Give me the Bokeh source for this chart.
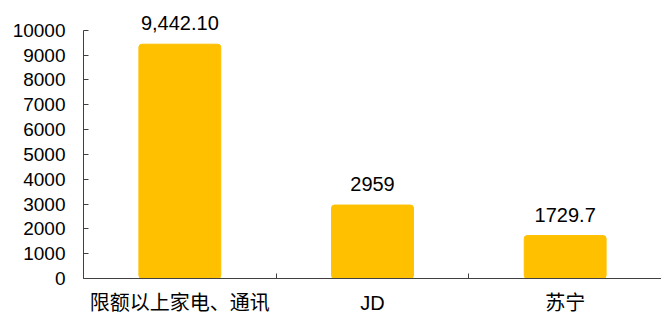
from bokeh.plotting import figure
from bokeh.models import Range1d, FixedTicker, ColumnDataSource
from bokeh.core.properties import value
from bokeh.embed import file_html
from bokeh.resources import INLINE

categories = ["限额以上家电、通讯", "JD", "苏宁"]
values = [9442.10, 2959, 1729.7]
value_labels = ["9,442.10", "2959", "1729.7"]
y_ticks = [0, 1000, 2000, 3000, 4000, 5000, 6000, 7000, 8000, 9000, 10000]

FONT = "Liberation Sans"
BAR = "#FFC000"

xs = [i + 0.5 for i in range(len(categories))]
src = ColumnDataSource(dict(x=xs, top=values, label=value_labels))

p = figure(frame_width=578, frame_height=268, output_backend="svg", toolbar_location=None,
           x_range=Range1d(0, len(categories)), y_range=Range1d(0, 10800),
           min_border_left=83, min_border_top=10, min_border_bottom=34, min_border_right=0)
p.outline_line_color = None
p.xgrid.visible = False
p.ygrid.visible = False

p.vbar(x="x", top="top", bottom=0, width=0.425, source=src, color=BAR, border_radius=3)
p.text(x="x", y="top", text="label", source=src, text_align="center", text_baseline="bottom",
       y_offset=-14, text_font=value(FONT), text_font_size="20px", text_color="#000000")

# y axis
p.yaxis.bounds = (min(y_ticks), max(y_ticks))
p.yaxis.ticker = FixedTicker(ticks=y_ticks)
p.yaxis.major_tick_in = 5
p.yaxis.major_tick_out = 0
p.yaxis.minor_tick_line_color = None
p.yaxis.major_label_standoff = 18
p.yaxis.major_label_text_font = FONT
p.yaxis.major_label_text_font_size = "19px"
p.yaxis.major_label_text_color = "#000000"
p.yaxis.axis_line_color = "#404040"
p.yaxis.major_tick_line_color = "#404040"

# x axis: labels at centers, tick marks at category boundaries
p.xaxis.ticker = FixedTicker(ticks=xs, minor_ticks=list(range(len(categories) + 1)))
p.xaxis.major_label_overrides = {x: c for x, c in zip(xs, categories)}
p.xaxis.major_tick_line_color = None
p.xaxis.minor_tick_in = 5
p.xaxis.minor_tick_out = 0
p.xaxis.minor_tick_line_color = "#404040"
p.xaxis.axis_line_color = "#404040"
p.xaxis.major_label_standoff = 7
p.xaxis.major_label_text_font = "Liberation Sans, Noto Sans CJK SC"
p.xaxis.major_label_text_font_size = "20px"
p.xaxis.major_label_text_color = "#000000"

open("out.html", "w").write(file_html(p, INLINE))
